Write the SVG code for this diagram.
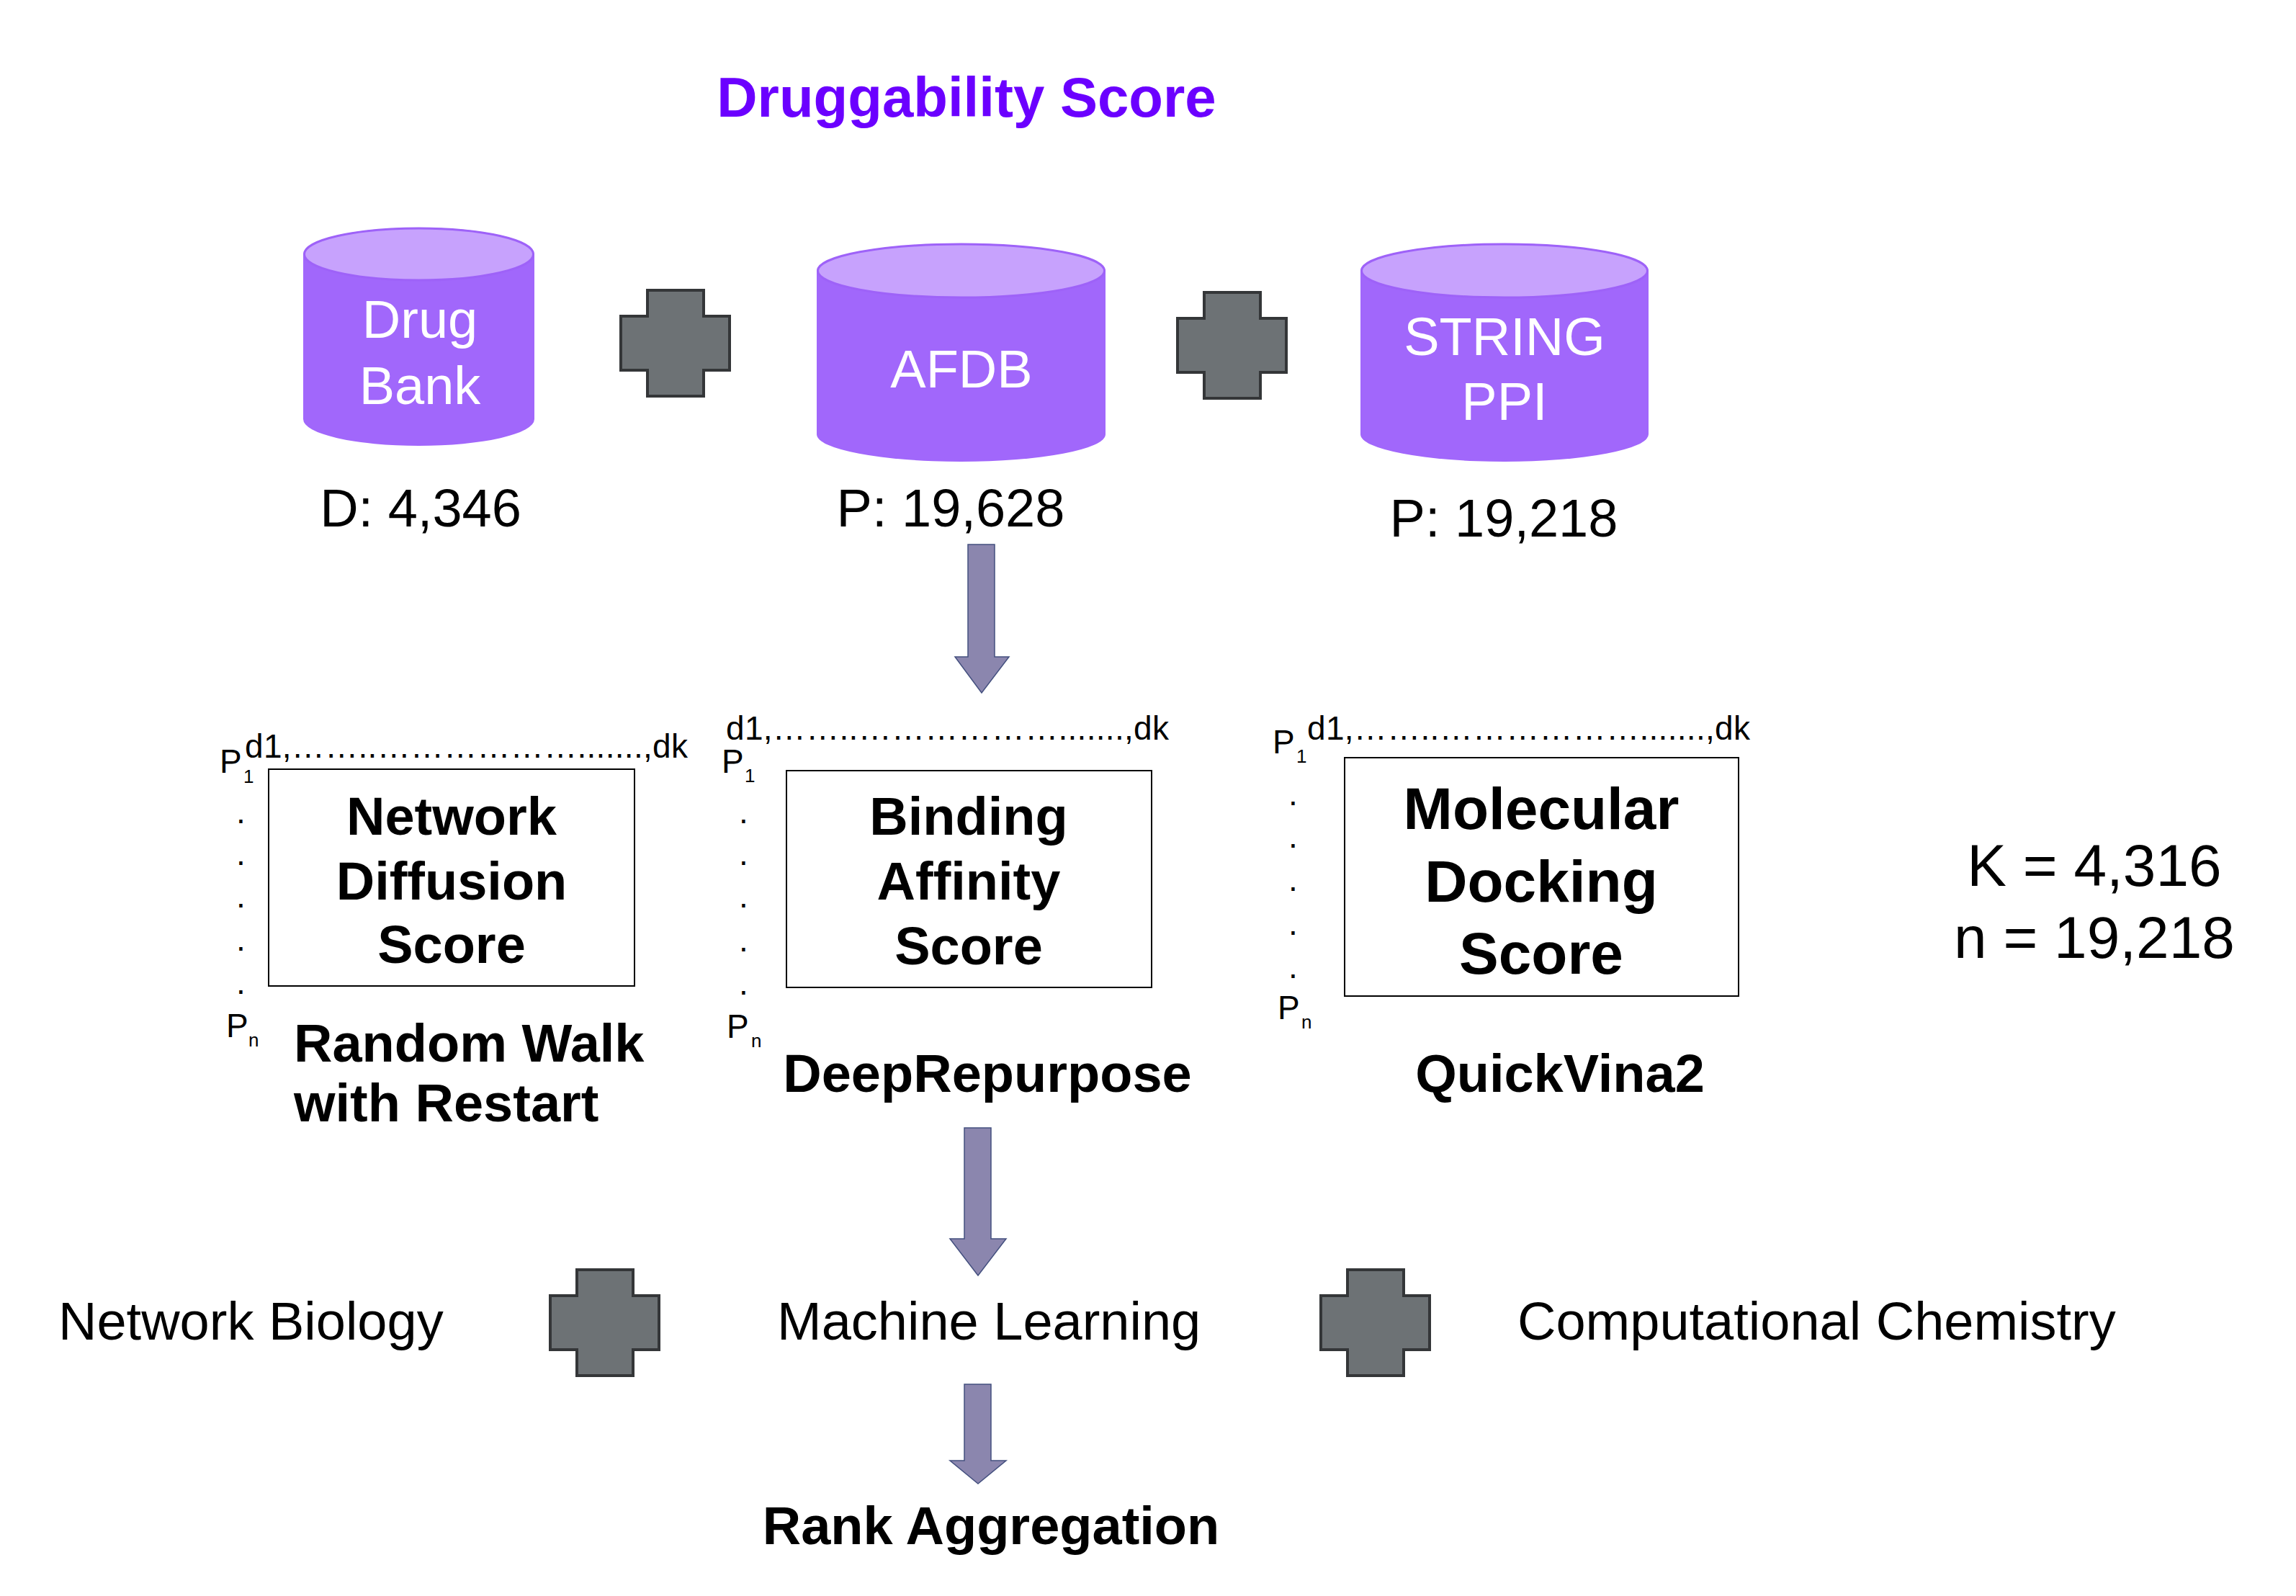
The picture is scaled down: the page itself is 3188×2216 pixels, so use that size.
<svg xmlns="http://www.w3.org/2000/svg" xmlns:xlink="http://www.w3.org/1999/xlink" width="3188" height="2216" viewBox="0 0 3188 2216">
<style>
text{font-family:"Liberation Sans",Arial,Helvetica,sans-serif;fill:#000}
.b{font-weight:bold}
.c{text-anchor:middle}
.t74{font-size:74px}
.t82{font-size:82px}
.w{fill:#fff}
.hdr{font-size:46px}
.sub{font-size:26px}
.cylb{fill:#a167fb}
.cylt{fill:#c7a2fd;stroke:#9e62f8;stroke-width:3}
.mbox{fill:#fff;stroke:#000;stroke-width:2}
.plus{fill:#6d7275;stroke:#343638;stroke-width:4}
.arr{fill:#8b86ae;stroke:#44507f;stroke-width:1.5}
</style>
<defs>
<path id="plusShape" d="M37,0 H115 V36 H151 V111 H115 V147 H37 V111 H0 V36 H37 Z"/>
</defs>
<rect width="3188" height="2216" fill="#fff"/>

<g id="title">
<text class="b c" x="1342" y="162" style="font-size:78px;fill:#6b00ff">Druggability Score</text>
</g>

<g id="drugbank">
<path class="cylb" d="M421,353 A160.5,37 0 0 1 742,353 V582 A160.5,37 0 0 1 421,582 Z"/>
<ellipse class="cylt" cx="581.5" cy="353" rx="159" ry="36"/>
<text class="c t74 w" x="583" y="469">Drug</text>
<text class="c t74 w" x="583" y="561">Bank</text>
<text class="c t74" x="584" y="731">D: 4,346</text>
</g>

<g id="afdb">
<path class="cylb" d="M1134,376 A200.5,38 0 0 1 1535,376 V603 A200.5,38 0 0 1 1134,603 Z"/>
<ellipse class="cylt" cx="1334.5" cy="376" rx="199" ry="37"/>
<text class="c t74 w" x="1335" y="538">AFDB</text>
<text class="c t74" x="1320" y="731">P: 19,628</text>
</g>

<g id="string">
<path class="cylb" d="M1889,376 A200,38 0 0 1 2289,376 V603 A200,38 0 0 1 1889,603 Z"/>
<ellipse class="cylt" cx="2089" cy="376" rx="198.5" ry="37"/>
<text class="c t74 w" x="2089" y="493">STRING</text>
<text class="c t74 w" x="2089" y="583">PPI</text>
<text class="c t74" x="2088" y="745">P: 19,218</text>
</g>

<g id="plus1"><use xlink:href="#plusShape" class="plus" transform="translate(862,403)"/></g>
<g id="plus2"><use xlink:href="#plusShape" class="plus" transform="translate(1635,406)"/></g>
<g id="plus3"><use xlink:href="#plusShape" class="plus" transform="translate(764,1763)"/></g>
<g id="plus4"><use xlink:href="#plusShape" class="plus" transform="translate(1834,1763)"/></g>

<g id="matrix-network">
<text class="hdr" x="340" y="1052" textLength="615" lengthAdjust="spacing">d1,……..……………….......,dk</text>
<text class="hdr" x="305" y="1073">P</text>
<text class="sub" x="338" y="1087">1</text>
<text class="hdr" x="328" y="1143">.</text>
<text class="hdr" x="328" y="1201">.</text>
<text class="hdr" x="328" y="1260">.</text>
<text class="hdr" x="328" y="1320">.</text>
<text class="hdr" x="328" y="1380">.</text>
<text class="hdr" x="314" y="1440">P</text>
<text class="sub" x="345" y="1453">n</text>
<rect class="mbox" x="373" y="1068" width="508" height="301"/>
<text class="b c t74" x="627" y="1159">Network</text>
<text class="b c t74" x="627" y="1249">Diffusion</text>
<text class="b c t74" x="627" y="1337">Score</text>
<text class="b t74" x="408" y="1474">Random Walk</text>
<text class="b t74" x="408" y="1557">with Restart</text>
</g>

<g id="matrix-binding">
<text class="hdr" x="1008" y="1027" textLength="615" lengthAdjust="spacing">d1,……..……………….......,dk</text>
<text class="hdr" x="1002" y="1073">P</text>
<text class="sub" x="1034" y="1086">1</text>
<text class="hdr" x="1026" y="1143">.</text>
<text class="hdr" x="1026" y="1201">.</text>
<text class="hdr" x="1026" y="1260">.</text>
<text class="hdr" x="1026" y="1321">.</text>
<text class="hdr" x="1026" y="1381">.</text>
<text class="hdr" x="1009" y="1441">P</text>
<text class="sub" x="1043" y="1454">n</text>
<rect class="mbox" x="1092" y="1070" width="507" height="301"/>
<text class="b c t74" x="1345" y="1159">Binding</text>
<text class="b c t74" x="1345" y="1249">Affinity</text>
<text class="b c t74" x="1345" y="1339">Score</text>
<text class="b c t74" x="1371" y="1516">DeepRepurpose</text>
</g>

<g id="matrix-docking">
<text class="hdr" x="1815" y="1027" textLength="615" lengthAdjust="spacing">d1,……..……………….......,dk</text>
<text class="hdr" x="1767" y="1046">P</text>
<text class="sub" x="1800" y="1059">1</text>
<text class="hdr" x="1789" y="1118">.</text>
<text class="hdr" x="1789" y="1177">.</text>
<text class="hdr" x="1789" y="1237">.</text>
<text class="hdr" x="1789" y="1298">.</text>
<text class="hdr" x="1789" y="1358">.</text>
<text class="hdr" x="1774" y="1415">P</text>
<text class="sub" x="1807" y="1428">n</text>
<rect class="mbox" x="1867" y="1052" width="547" height="331"/>
<text class="b c t82" x="2140" y="1151">Molecular</text>
<text class="b c t82" x="2140" y="1252">Docking</text>
<text class="b c t82" x="2140" y="1352">Score</text>
<text class="b c t74" x="2166" y="1516">QuickVina2</text>
</g>

<g id="params">
<text class="c t82" x="2908" y="1230">K = 4,316</text>
<text class="c t82" x="2908" y="1330">n = 19,218</text>
</g>

<g id="fields">
<text class="t74" x="81" y="1860">Network Biology</text>
<text class="t74" x="1079" y="1860">Machine Learning</text>
<text class="t74" x="2107" y="1860">Computational Chemistry</text>
</g>

<g id="rank">
<text class="b c t74" x="1376" y="2144">Rank Aggregation</text>
</g>

<g id="connectors">
<path class="arr" d="M1344,756 H1381 V912 H1401 L1363,962 L1326,912 H1344 Z"/>
<path class="arr" d="M1339,1566 H1376 V1720 H1397 L1358,1771 L1319,1720 H1339 Z"/>
<path class="arr" d="M1339,1922 H1376 V2028 H1397 L1358,2060 L1319,2028 H1339 Z"/>
</g>
</svg>
